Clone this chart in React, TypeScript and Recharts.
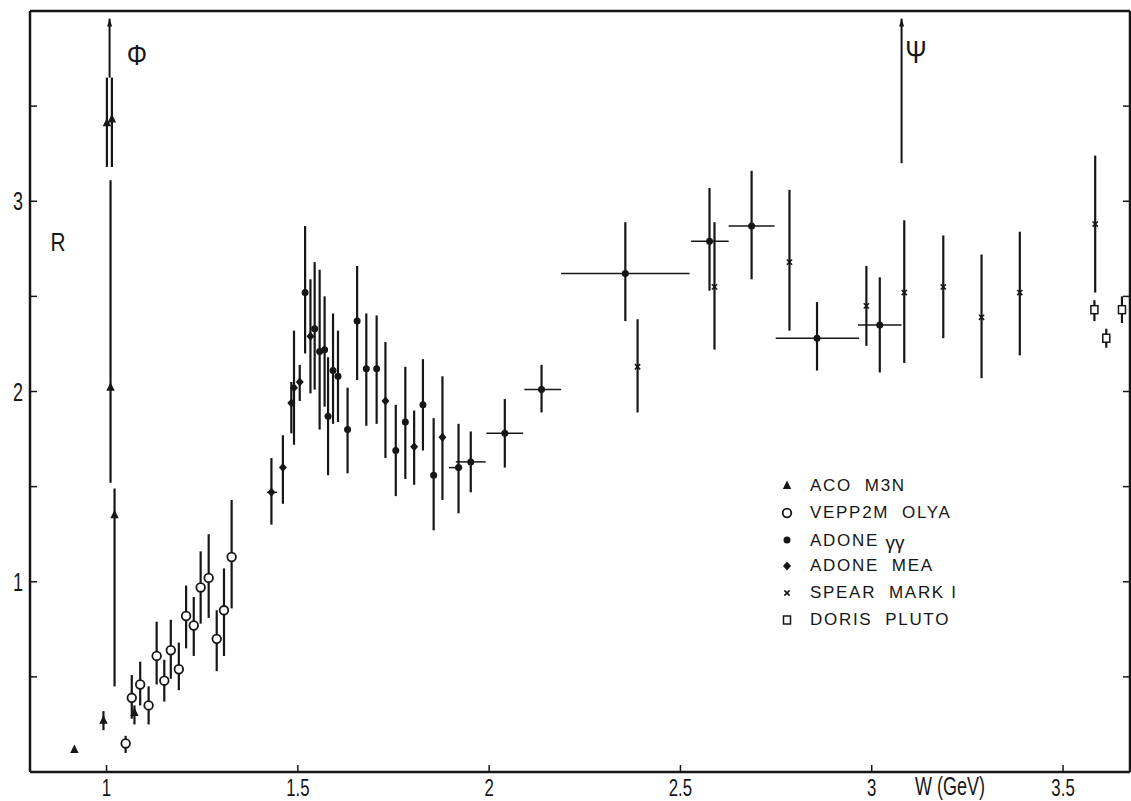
import React from 'react';
import { ScatterChart, Scatter, XAxis, YAxis, ErrorBar, Legend } from 'recharts';

const W_DOMAIN: [number, number] = [0.8, 3.675];
const R_DOMAIN: [number, number] = [0, 4];
const xTicks = [1, 1.5, 2, 2.5, 3, 3.5];
const xTickLabels = ['1', '1.5', '2', '2.5', '3', '3.5'];
const yTicks = [0.5, 1, 1.5, 2, 2.5, 3, 3.5];
const yTickLabels = ['', '1', '', '2', '', '3', ''];

// rows: [W (GeV), R, R low, R high, W low, W high]
const acoM3N = [
  [0.916, 0.115, 0.115, 0.115],
  [0.992, 0.27, 0.22, 0.32],
  [1.001, 3.41, 3.18, 3.65],
  [1.014, 3.43, 3.18, 3.65],
  [1.0105, 2.02, 1.52, 3.11],
  [1.021, 1.35, 0.45, 1.49],
  [1.073, 0.31, 0.25, 0.35],
];

const vepp2mOlya = [
  [1.05, 0.15, 0.1, 0.19],
  [1.066, 0.39, 0.28, 0.51],
  [1.088, 0.46, 0.35, 0.58],
  [1.11, 0.35, 0.25, 0.45],
  [1.131, 0.61, 0.46, 0.79],
  [1.151, 0.48, 0.37, 0.59],
  [1.168, 0.64, 0.49, 0.8],
  [1.189, 0.54, 0.43, 0.68],
  [1.208, 0.82, 0.65, 0.98],
  [1.228, 0.77, 0.61, 0.92],
  [1.246, 0.97, 0.78, 1.16],
  [1.267, 1.02, 0.81, 1.25],
  [1.288, 0.7, 0.53, 0.85],
  [1.307, 0.85, 0.61, 1.07],
  [1.327, 1.13, 0.86, 1.43],
];

const adoneGG = [
  [1.519, 2.52, 2.2, 2.87],
  [1.544, 2.33, 2.01, 2.68],
  [1.557, 2.21, 1.8, 2.64],
  [1.57, 2.22, 1.92, 2.5],
  [1.579, 1.87, 1.56, 2.18],
  [1.592, 2.11, 1.83, 2.41],
  [1.605, 2.08, 1.84, 2.32],
  [1.63, 1.8, 1.57, 2.02],
  [1.655, 2.37, 2.06, 2.66],
  [1.679, 2.12, 1.82, 2.41],
  [1.706, 2.12, 1.83, 2.4],
  [1.756, 1.69, 1.45, 1.93],
  [1.781, 1.84, 1.54, 2.13],
  [1.827, 1.93, 1.69, 2.17],
  [1.855, 1.56, 1.27, 1.86],
  [1.92, 1.6, 1.36, 1.83, 1.895, 1.93],
  [1.952, 1.63, 1.47, 1.79, 1.913, 1.991],
  [2.041, 1.78, 1.6, 1.96, 1.993, 2.089],
  [2.137, 2.01, 1.89, 2.14, 2.092, 2.188],
  [2.356, 2.62, 2.37, 2.89, 2.188, 2.524],
  [2.576, 2.79, 2.53, 3.07, 2.528, 2.626],
  [2.686, 2.87, 2.59, 3.16, 2.626, 2.746],
  [2.857, 2.28, 2.11, 2.47, 2.749, 2.967],
  [3.021, 2.35, 2.1, 2.6, 2.964, 3.078],
];

const adoneMEA = [
  [1.431, 1.47, 1.3, 1.65, 1.42, 1.446],
  [1.461, 1.6, 1.41, 1.77],
  [1.483, 1.94, 1.78, 2.05],
  [1.49, 2.02, 1.72, 2.32],
  [1.505, 2.05, 1.95, 2.14],
  [1.533, 2.29, 1.99, 2.59],
  [1.729, 1.95, 1.65, 2.26],
  [1.804, 1.71, 1.51, 1.9],
  [1.878, 1.76, 1.43, 2.08],
];

const spearMark1 = [
  [2.388, 2.13, 1.89, 2.38],
  [2.589, 2.55, 2.22, 2.89],
  [2.785, 2.68, 2.32, 3.06],
  [2.986, 2.45, 2.24, 2.66],
  [3.085, 2.52, 2.15, 2.9],
  [3.187, 2.55, 2.28, 2.82],
  [3.287, 2.39, 2.07, 2.72],
  [3.387, 2.52, 2.19, 2.84],
  [3.584, 2.88, 2.52, 3.24],
];

const dorisPluto = [
  [3.582, 2.43, 2.37, 2.48],
  [3.613, 2.28, 2.23, 2.33],
  [3.654, 2.43, 2.36, 2.5],
];

// off-scale resonance peaks (phi, psi), drawn as arrows
const resonancePeaks = [
  [1.008, 3.96, 3.65, 3.96],
  [3.078, 3.96, 3.2, 3.96],
];

const toRows = (pts: number[][]) =>
  pts.map(([w, r, lo, hi, wlo, whi]) => ({
    w,
    r,
    ey: [r - lo, hi - r],
    ex: wlo === undefined ? [0, 0] : [w - wlo, whi - w],
  }));

const INK = '#161616';
const TICK_FONT = "'Liberation Sans', Arial, sans-serif";

const triangle = (cx: number, cy: number) => (
  <polygon points={`${cx},${cy - 5.5} ${cx - 4.2},${cy + 3} ${cx + 4.2},${cy + 3}`} fill={INK} />
);
const openCircle = (cx: number, cy: number) => (
  <circle cx={cx} cy={cy} r={4.3} fill="#fff" stroke={INK} strokeWidth={1.8} />
);
const dot = (cx: number, cy: number) => <circle cx={cx} cy={cy} r={3.5} fill={INK} />;
const diamond = (cx: number, cy: number) => (
  <polygon points={`${cx},${cy - 4.5} ${cx + 4},${cy} ${cx},${cy + 4.5} ${cx - 4},${cy}`} fill={INK} />
);
const cross = (cx: number, cy: number) => (
  <g stroke={INK} strokeWidth={1.6}>
    <line x1={cx - 2.6} y1={cy - 2.6} x2={cx + 2.6} y2={cy + 2.6} />
    <line x1={cx - 2.6} y1={cy + 2.6} x2={cx + 2.6} y2={cy - 2.6} />
  </g>
);
const square = (cx: number, cy: number) => (
  <rect x={cx - 3.5} y={cy - 4} width={7} height={8} fill="#fff" stroke={INK} strokeWidth={1.5} />
);
const arrowHead = (cx: number, cy: number) => (
  <polygon points={`${cx},${cy} ${cx - 2.5},${cy + 8} ${cx + 2.5},${cy + 8}`} fill={INK} />
);

const series = [
  { name: 'ACO  M3N', rows: toRows(acoM3N), mark: triangle },
  { name: 'VEPP2M  OLYA', rows: toRows(vepp2mOlya), mark: openCircle },
  { name: 'ADONE γγ', rows: toRows(adoneGG), mark: dot },
  { name: 'ADONE  MEA', rows: toRows(adoneMEA), mark: diamond },
  { name: 'SPEAR  MARK I', rows: toRows(spearMark1), mark: cross },
  { name: 'DORIS  PLUTO', rows: toRows(dorisPluto), mark: square },
];

const XTick = ({ x, y, payload }: any) => {
  const label = xTickLabels[xTicks.indexOf(payload.value)];
  const axisY = y - 8;
  return (
    <g>
      <line x1={x} x2={x} y1={axisY} y2={axisY - 7} stroke={INK} strokeWidth={1.5} />
      <text
        transform={`translate(${x},${axisY + 24}) scale(0.7,1)`}
        textAnchor="middle"
        fontSize={24}
        fontFamily={TICK_FONT}
        fill={INK}
      >
        {label}
      </text>
    </g>
  );
};

const YTick = ({ x, y, payload }: any) => {
  const label = yTickLabels[yTicks.indexOf(payload.value)];
  const axisX = x + 6;
  return (
    <g>
      <line x1={axisX} x2={axisX + 7} y1={y} y2={y} stroke={INK} strokeWidth={1.5} />
      {label && (
        <text
          transform={`translate(${x - 1},${y + 9}) scale(0.72,1)`}
          textAnchor="end"
          fontSize={25}
          fontFamily={TICK_FONT}
          fill={INK}
        >
          {label}
        </text>
      )}
    </g>
  );
};

const NoLabel = () => <g />;

// legend keeps the figure's own order, not the library's sorted payload
const LegendBox = ({ payload }: any) => {
  const shown = new Set((payload || []).map((e: any) => e.value));
  return (
    <div style={{ fontFamily: TICK_FONT, fontSize: 17, letterSpacing: 1.7, color: INK }}>
      {series
        .filter((s) => shown.has(s.name))
        .map((s) => (
          <div key={s.name} style={{ display: 'flex', alignItems: 'center', height: 26.7 }}>
            <svg width={18} height={18} style={{ marginRight: 14, flex: 'none' }}>
              {s.mark(9, 9)}
            </svg>
            <span style={{ whiteSpace: 'pre' }}>
              {s.name === 'ADONE γγ' ? (
                <>
                  {'ADONE '}
                  <span style={{ position: 'relative', top: 3, fontSize: 19, letterSpacing: 0 }}>γγ</span>
                </>
              ) : (
                s.name
              )}
            </span>
          </div>
        ))}
    </div>
  );
};

const note = (left: number, top: number, size: number, sx = 1): React.CSSProperties => ({
  position: 'absolute',
  left,
  top,
  fontSize: size,
  fontFamily: TICK_FONT,
  color: INK,
  transform: `translate(-50%, -50%) scale(${sx},1)`,
  whiteSpace: 'pre',
  lineHeight: 1,
});

export default function App() {
  return (
    <div style={{ position: 'absolute', left: 0, top: 0, width: 1131, height: 801, background: '#fff' }}>
      <ScatterChart width={1131} height={801} margin={{ top: 11, right: 1, bottom: 0, left: 0 }}>
        <XAxis
          xAxisId="w"
          type="number"
          dataKey="w"
          domain={W_DOMAIN}
          allowDataOverflow
          ticks={xTicks}
          height={29}
          tickSize={0}
          tickMargin={8}
          tickLine={false}
          tick={<XTick />}
          axisLine={{ stroke: INK, strokeWidth: 2.5 }}
        />
        <XAxis
          xAxisId="wTop"
          orientation="top"
          mirror
          type="number"
          domain={W_DOMAIN}
          allowDataOverflow
          ticks={xTicks}
          tickSize={7}
          tick={NoLabel}
          tickLine={{ stroke: INK, strokeWidth: 1.5 }}
          axisLine={{ stroke: INK, strokeWidth: 2.5 }}
        />
        <YAxis
          yAxisId="r"
          type="number"
          dataKey="r"
          domain={R_DOMAIN}
          allowDataOverflow
          ticks={yTicks}
          width={30}
          tickSize={0}
          tickMargin={6}
          tickLine={false}
          tick={<YTick />}
          axisLine={{ stroke: INK, strokeWidth: 2.5 }}
        />
        <YAxis
          yAxisId="rRight"
          orientation="right"
          mirror
          type="number"
          domain={R_DOMAIN}
          allowDataOverflow
          ticks={yTicks}
          tickSize={7}
          tick={NoLabel}
          tickLine={{ stroke: INK, strokeWidth: 1.5 }}
          axisLine={{ stroke: INK, strokeWidth: 2.5 }}
        />
        {series.map((s) => (
          <Scatter
            key={s.name}
            name={s.name}
            xAxisId="w"
            yAxisId="r"
            data={s.rows}
            fill={INK}
            isAnimationActive={false}
            shape={(p: any) => s.mark(p.cx, p.cy)}
          >
            <ErrorBar dataKey="ey" direction="y" width={0} stroke={INK} strokeWidth={2.2} />
            <ErrorBar dataKey="ex" direction="x" width={0} stroke={INK} strokeWidth={1.5} />
          </Scatter>
        ))}
        <Scatter
          name="peaks"
          legendType="none"
          xAxisId="w"
          yAxisId="r"
          data={toRows(resonancePeaks)}
          fill={INK}
          isAnimationActive={false}
          shape={(p: any) => arrowHead(p.cx, p.cy)}
        >
          <ErrorBar dataKey="ey" direction="y" width={0} stroke={INK} strokeWidth={2} />
        </Scatter>
        <Legend
          layout="vertical"
          align="center"
          verticalAlign="middle"
          content={<LegendBox />}
          wrapperStyle={{ left: 778, top: 473, width: 'auto' }}
        />
      </ScatterChart>
      <div style={note(137, 55, 30, 0.85)}>Φ</div>
      <div style={note(916, 52, 32, 0.8)}>Ψ</div>
      <div style={note(58, 242, 26, 0.8)}>R</div>
      <div style={note(950, 786, 25, 0.72)}>W (GeV)</div>
    </div>
  );
}
